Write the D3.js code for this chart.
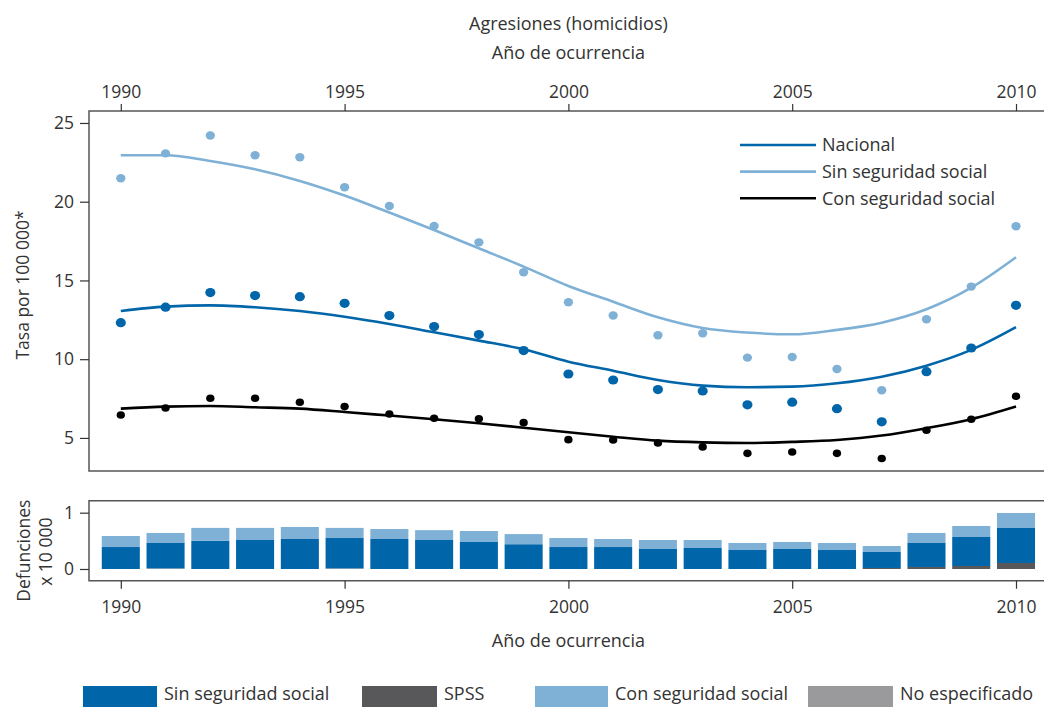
<!DOCTYPE html>
<html>
<head>
<meta charset="utf-8">
<script src="https://cdn.jsdelivr.net/npm/d3@7/dist/d3.min.js"></script>
<style>
  html, body { margin: 0; padding: 0; background: #fff; }
  svg { display: block; font-family: "Open Sans", "Noto Sans", sans-serif; }
  text { fill: #333; }
</style>
</head>
<body>
<svg id="chart" width="1044" height="707"></svg>
<script>
// Homicide rates per 100 000 by year of occurrence, with smoothed trends
const years = d3.range(1990, 2011);
const xTicks = [1990, 1995, 2000, 2005, 2010];
const rateTicks = [5, 10, 15, 20, 25];
const deathTicks = [0, 1];

// Observed annual rates
const rateNacional = [12.32, 13.30, 14.23, 14.04, 13.97, 13.55, 12.77, 12.07, 11.56, 10.55, 9.06,
                      8.68, 8.07, 7.98, 7.10, 7.27, 6.86, 6.02, 9.21, 10.71, 13.42];
const rateSin = [21.49, 23.07, 24.20, 22.95, 22.82, 20.92, 19.73, 18.46, 17.42, 15.52, 13.62,
                 12.77, 11.52, 11.65, 10.10, 10.14, 9.38, 8.03, 12.54, 14.61, 18.44];
const rateCon = [6.46, 6.90, 7.52, 7.52, 7.27, 6.99, 6.52, 6.25, 6.21, 5.97, 4.89,
                 4.87, 4.68, 4.43, 4.02, 4.11, 4.02, 3.69, 5.49, 6.19, 7.65];

// Smoothed trend values
const trendNacional = [13.06, 13.34, 13.42, 13.30, 13.06, 12.70, 12.24, 11.71, 11.18, 10.63, 9.84,
                       9.27, 8.68, 8.32, 8.22, 8.26, 8.47, 8.89, 9.59, 10.59, 12.03];
const trendSin = [22.95, 22.95, 22.59, 22.06, 21.32, 20.39, 19.31, 18.20, 17.04, 15.88, 14.65,
                  13.65, 12.66, 11.98, 11.69, 11.58, 11.86, 12.32, 13.17, 14.54, 16.47];
const trendCon = [6.86, 6.99, 7.03, 6.95, 6.86, 6.65, 6.42, 6.19, 5.93, 5.65, 5.36,
                  5.08, 4.83, 4.72, 4.68, 4.75, 4.87, 5.15, 5.62, 6.19, 6.99];

// Deaths (x 10 000) by affiliation
const deathsNoEsp = [0, 0.01, 0, 0, 0, 0.01, 0, 0, 0, 0, 0,
                     0, 0, 0, 0, 0, 0, 0, 0, 0, 0];
const deathsSPSS = [0, 0, 0, 0, 0, 0, 0, 0, 0, 0, 0,
                    0, 0, 0, 0, 0, 0, 0.018, 0.036, 0.053, 0.107];
const deathsSin = [0.39, 0.46, 0.50, 0.515, 0.533, 0.54, 0.533, 0.515, 0.48, 0.44, 0.39,
                   0.39, 0.355, 0.373, 0.337, 0.355, 0.337, 0.284, 0.426, 0.515, 0.621];
const deathsCon = [0.196, 0.17, 0.23, 0.215, 0.213, 0.18, 0.177, 0.175, 0.195, 0.18, 0.16,
                   0.143, 0.16, 0.142, 0.125, 0.125, 0.125, 0.106, 0.178, 0.196, 0.267];

const lineLegend = ["Nacional", "Sin seguridad social", "Con seguridad social"];
const barLegend = ["Sin seguridad social", "SPSS", "Con seguridad social", "No especificado"];

const C = {
  dark: "#0065a9",
  light: "#7fb1d6",
  black: "#000000",
  spss: "#58585a",
  noesp: "#9a9a9c",
  axis: "#555555"
};

const svg = d3.select("#chart");

const x = d3.scaleLinear().domain([1990, 2010]).range([120.8, 1016]);
const plotLeft = 89, plotRight = 1044;

function styleAxis(g) {
  g.select(".domain").remove();
  g.selectAll("line").attr("stroke", "#333").attr("stroke-width", 1.2);
  g.selectAll("text").attr("font-size", 17.5).attr("fill", "#333")
    .attr("font-family", "Open Sans");
}

// ---------- upper panel: rates ----------
const upper = { y0: 111, y1: 471 };
const y = d3.scaleLinear().domain([2.9, 25.76]).range([upper.y1, upper.y0]);

const gUpper = svg.append("g");

// frame: left, top and bottom rules
gUpper.append("path")
  .attr("d", `M${plotRight},${upper.y0}H${plotLeft}V${upper.y1}H${plotRight}`)
  .attr("fill", "none").attr("stroke", C.axis).attr("stroke-width", 1.5);

// year axis above the panel
svg.append("g").attr("transform", `translate(0,${upper.y0})`)
  .call(d3.axisTop(x).tickValues(xTicks).tickFormat(d3.format("d")).tickSize(7).tickPadding(6))
  .call(styleAxis);

// left rate axis
svg.append("g").attr("transform", `translate(${plotLeft},0)`)
  .call(d3.axisLeft(y).tickValues(rateTicks).tickSize(9).tickPadding(6))
  .call(styleAxis);

// titles
svg.append("text").attr("x", x(2000)).attr("y", 30).attr("text-anchor", "middle")
  .attr("font-size", 18).text("Agresiones (homicidios)");
svg.append("text").attr("x", x(2000)).attr("y", 59).attr("text-anchor", "middle")
  .attr("font-size", 18).text("Año de ocurrencia");
svg.append("text")
  .attr("transform", `translate(29,${(upper.y0 + upper.y1) / 2 - 6}) rotate(-90)`)
  .attr("text-anchor", "middle").attr("font-size", 17.5).text("Tasa por 100 000*");

const series = [
  { name: "Sin seguridad social", obs: rateSin, trend: trendSin, color: C.light, r: 4.2 },
  { name: "Nacional", obs: rateNacional, trend: trendNacional, color: C.dark, r: 4.6 },
  { name: "Con seguridad social", obs: rateCon, trend: trendCon, color: C.black, r: 3.8 }
];

const line = d3.line()
  .x((d, i) => x(years[i]))
  .y(d => y(d))
  .curve(d3.curveMonotoneX);

series.forEach(s => {
  gUpper.append("path")
    .attr("d", line(s.trend))
    .attr("fill", "none")
    .attr("stroke", s.color)
    .attr("stroke-width", 2.6);
  gUpper.append("g").selectAll("ellipse")
    .data(s.obs)
    .join("ellipse")
    .attr("cx", (d, i) => x(years[i]))
    .attr("cy", d => y(d))
    .attr("rx", s.r * 1.1)
    .attr("ry", s.r)
    .attr("fill", s.color);
});

// line legend
const legColors = { "Nacional": C.dark, "Sin seguridad social": C.light, "Con seguridad social": C.black };
const leg = svg.append("g").attr("transform", "translate(740,145)");
lineLegend.forEach((name, i) => {
  const gy = i * 26.6;
  leg.append("line").attr("x1", 0).attr("x2", 76).attr("y1", gy).attr("y2", gy)
    .attr("stroke", legColors[name]).attr("stroke-width", 2.6);
  leg.append("text").attr("x", 82).attr("y", gy).attr("dy", "0.36em")
    .attr("font-size", 18).text(name);
});

// ---------- lower panel: deaths ----------
const lower = { y0: 500.7, y1: 580.7 };
const yb = d3.scaleLinear().domain([-0.208, 1.213]).range([lower.y1, lower.y0]);

svg.append("path")
  .attr("d", `M${plotRight},${lower.y0}H${plotLeft}V${lower.y1}H${plotRight}`)
  .attr("fill", "none").attr("stroke", C.axis).attr("stroke-width", 1.5);

svg.append("g").attr("transform", `translate(${plotLeft},0)`)
  .call(d3.axisLeft(yb).tickValues(deathTicks).tickFormat(d3.format("d")).tickSize(9).tickPadding(6))
  .call(styleAxis);

svg.append("g").attr("transform", `translate(0,${lower.y1})`)
  .call(d3.axisBottom(x).tickValues(xTicks).tickFormat(d3.format("d")).tickSize(8).tickPadding(12))
  .call(styleAxis);

svg.append("text").attr("x", x(2000)).attr("y", 647).attr("text-anchor", "middle")
  .attr("font-size", 18).text("Año de ocurrencia");
svg.append("text")
  .attr("transform", `translate(30,${(lower.y0 + lower.y1) / 2 + 10}) rotate(-90)`)
  .attr("text-anchor", "middle").attr("font-size", 17.5).text("Defunciones");
svg.append("text")
  .attr("transform", `translate(52,${(lower.y0 + lower.y1) / 2 + 11}) rotate(-90)`)
  .attr("text-anchor", "middle").attr("font-size", 17.5).text("x 10 000");

const table = years.map((yr, i) => ({
  year: yr,
  "No especificado": deathsNoEsp[i],
  "SPSS": deathsSPSS[i],
  "Sin seguridad social": deathsSin[i],
  "Con seguridad social": deathsCon[i]
}));
const stackKeys = ["No especificado", "SPSS", "Sin seguridad social", "Con seguridad social"];
const barColors = {
  "Sin seguridad social": C.dark,
  "SPSS": C.spss,
  "Con seguridad social": C.light,
  "No especificado": C.noesp
};
const stacked = d3.stack().keys(stackKeys)(table);
const step = x(1991) - x(1990);
const bw = step * 0.85;

svg.append("g").selectAll("g")
  .data(stacked)
  .join("g")
  .attr("fill", d => barColors[d.key])
  .selectAll("rect")
  .data(d => d)
  .join("rect")
  .attr("x", d => x(d.data.year) - bw / 2)
  .attr("width", bw)
  .attr("y", d => yb(d[1]))
  .attr("height", d => Math.max(0, yb(d[0]) - yb(d[1])));

// bar legend along the bottom edge
const legStarts = [83, 362, 535, 808];
const legWidths = [74, 75, 73, 85];
const bl = svg.append("g");
barLegend.forEach((name, i) => {
  bl.append("rect").attr("x", legStarts[i]).attr("y", 686).attr("width", legWidths[i]).attr("height", 21)
    .attr("fill", barColors[name]);
  bl.append("text").attr("x", legStarts[i] + legWidths[i] + 7).attr("y", 700)
    .attr("font-size", 18).text(name);
});
</script>
</body>
</html>
